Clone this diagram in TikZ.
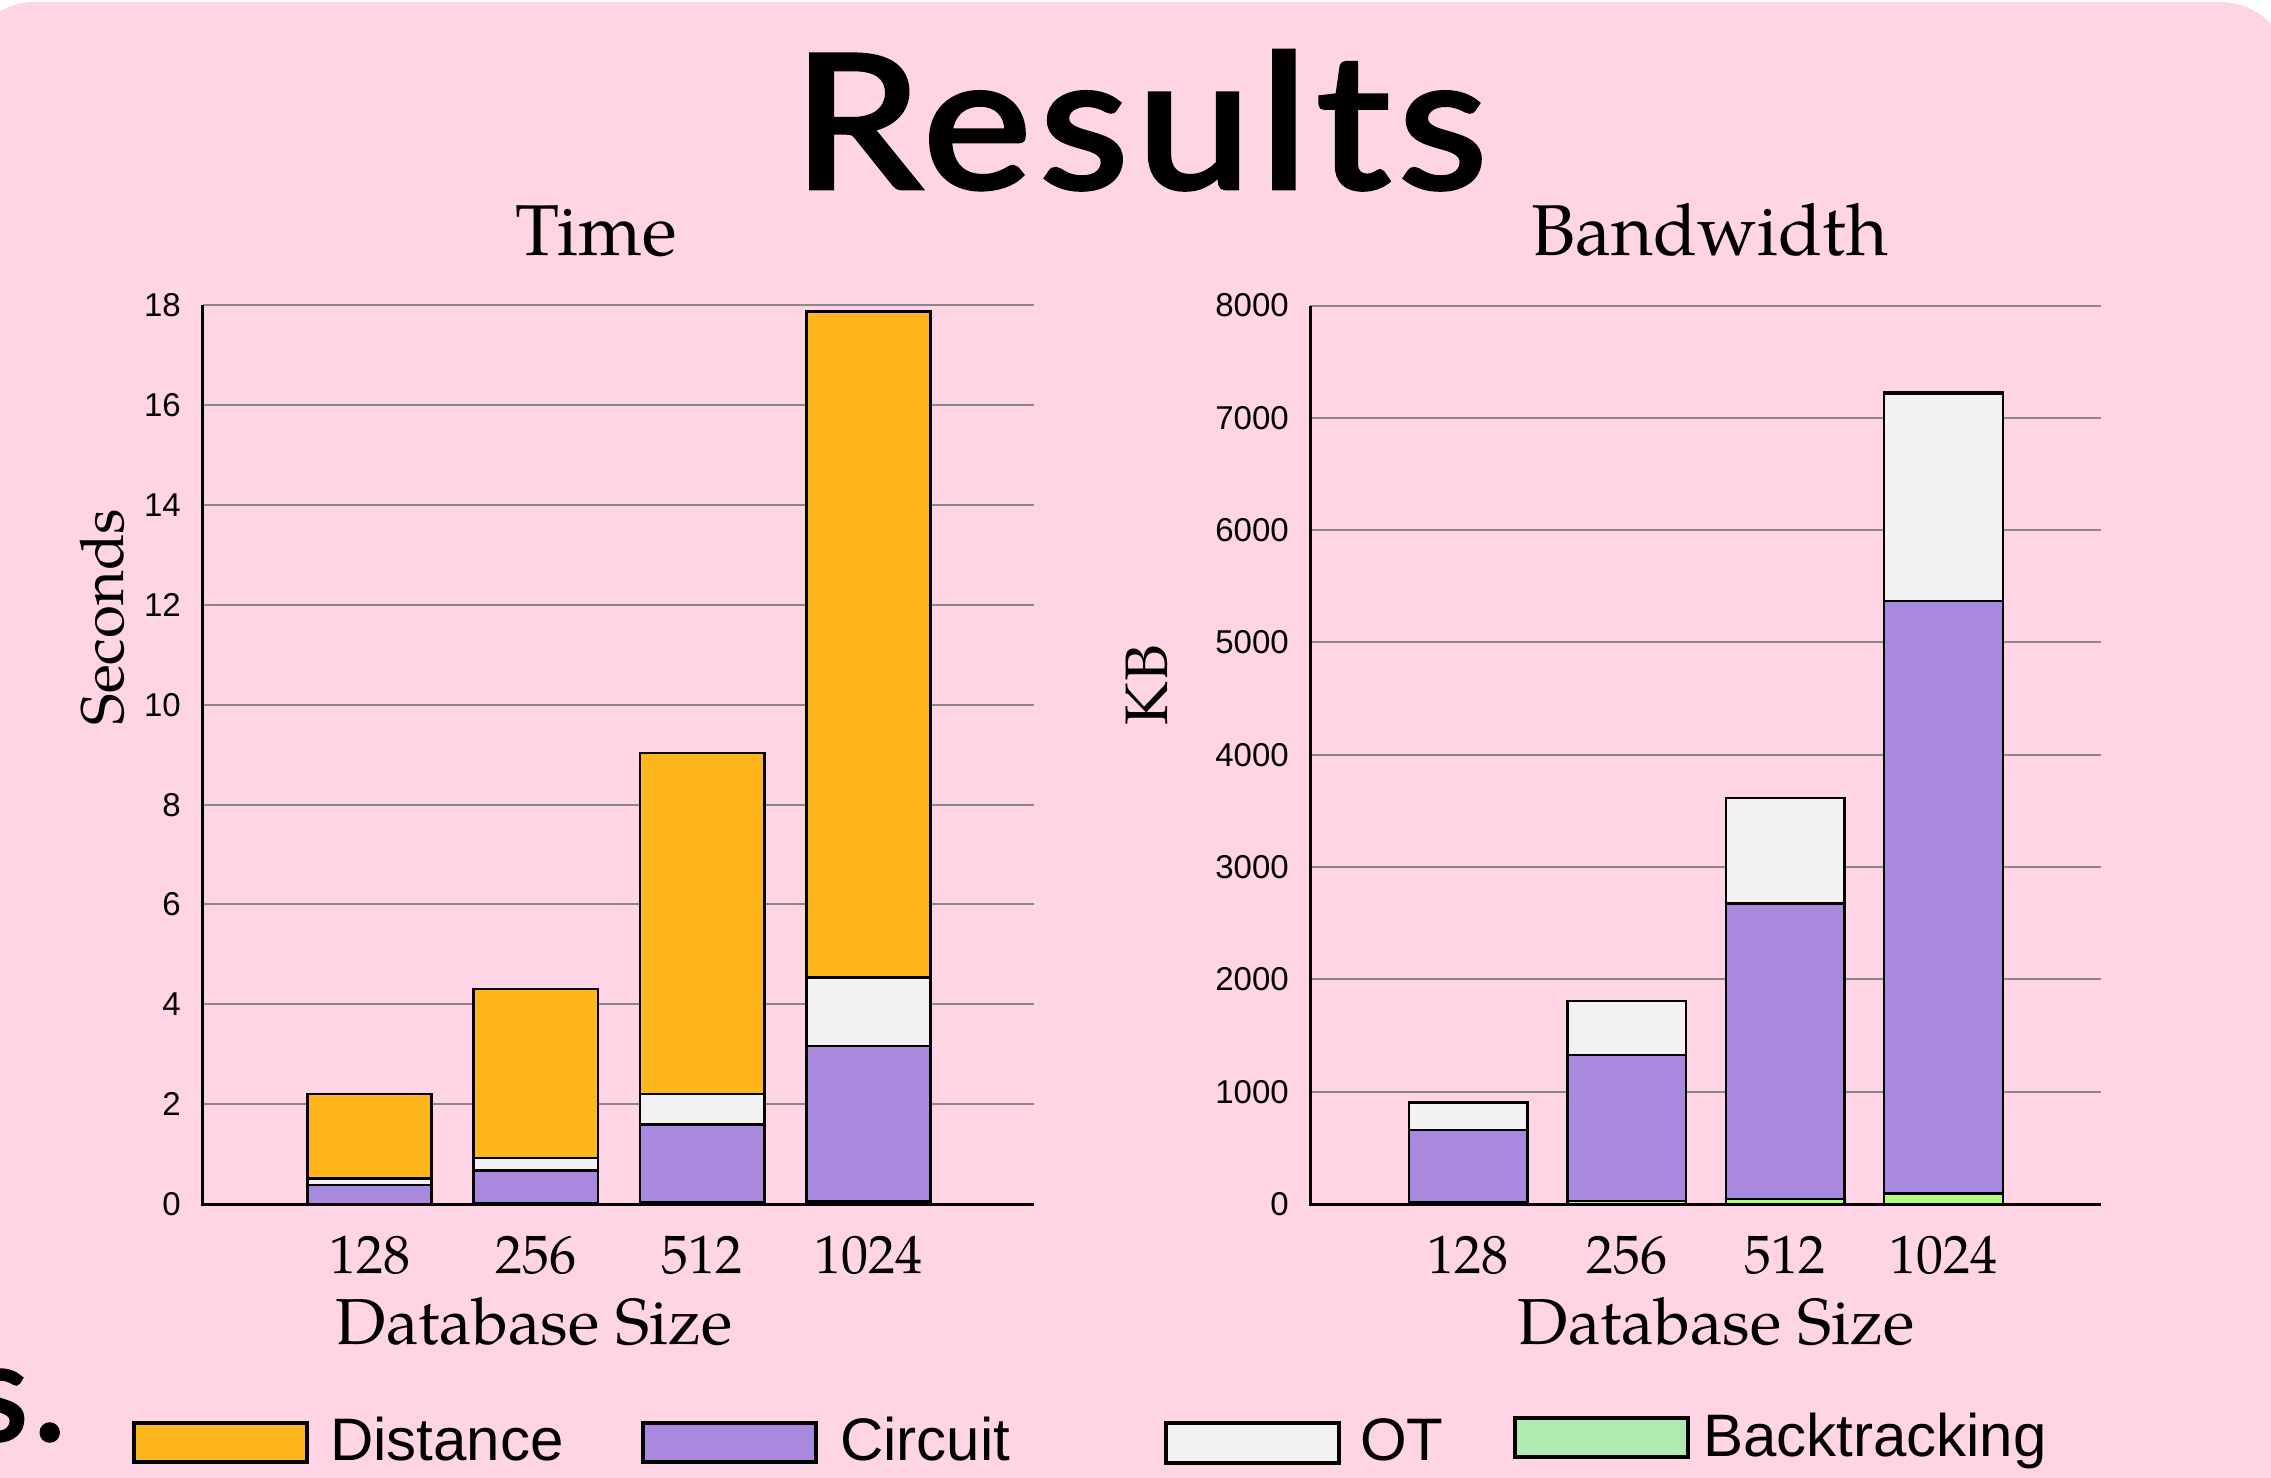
\documentclass[tikz,border=0pt]{standalone}
\usepackage{fontspec}
\setmainfont{texgyrepagella-regular.otf}
\newfontfamily\headfont{Lato}[LetterSpace=4.2, FakeBold=2.5]
\newfontfamily\axisfont{Liberation Sans}

\definecolor{bgpink}{RGB}{255,212,229}
\definecolor{distcol}{RGB}{255,182,28}
\definecolor{circcol}{RGB}{169,137,222}
\definecolor{otcol}{RGB}{242,242,242}
\definecolor{btcol}{RGB}{178,255,128}
\definecolor{btleg}{RGB}{176,234,176}
\definecolor{gridcol}{RGB}{136,136,136}

\tikzset{
  seg/.style={draw=black, line width=2.5pt, fill=#1},
  legbox/.style={draw=black, line width=4pt, fill=#1},
  gridline/.style={draw=gridcol, line width=2pt},
  axisline/.style={draw=black, line width=3pt},
  ticklabel/.style={font=\axisfont\fontsize{33}{33}\selectfont, anchor=east, inner sep=0pt},
  catlabel/.style={font=\fontsize{54}{54}\selectfont, anchor=base, inner sep=0pt},
  axistitle/.style={font=\fontsize{65}{65}\selectfont, anchor=base, inner sep=0pt},
  yaxistitle/.style={font=\fontsize{60}{60}\selectfont, anchor=base, inner sep=0pt, rotate=90},
  charttitle/.style={font=\fontsize{72}{72}\selectfont, anchor=base, inner sep=0pt},
  legtext/.style={font=\axisfont\fontsize{60}{60}\selectfont, anchor=base west, inner sep=0pt},
}

% one stacked bar: left x, width, then the cumulative tops of
% backtracking, circuit, OT and distance
\newcommand{\stackedbar}[6]{%
  \draw[seg=btcol]   (#1,0)  rectangle (#1+#2,#3);
  \draw[seg=circcol] (#1,#3) rectangle (#1+#2,#4);
  \draw[seg=otcol]   (#1,#4) rectangle (#1+#2,#5);
  \draw[seg=distcol] (#1,#5) rectangle (#1+#2,#6);
}

\begin{document}
\begin{tikzpicture}[x=1pt, y=-1pt]
  \useasboundingbox (0,0) rectangle (2271,1478);
  \fill[white] (0,0) rectangle (2271,1478);
  \fill[bgpink, rounded corners=70pt] (-35,2) rectangle (2290,1620);

  % heading
  \node[font=\headfont\fontsize{186}{186}\selectfont, anchor=base, inner sep=0pt, xscale=1.1]
    (title) at (1140,188) {Results};
  \node[font=\headfont\fontsize{136}{136}\selectfont, anchor=base east, inner sep=0pt]
    (cut) at (66,1440) {s.};

  % ---------------- time chart ----------------
  \node[charttitle] (ttitle) at (596,255) {Time};
  \begin{scope}[shift={(0,1204)}, y=49.92pt]
    \foreach \v in {2,4,...,18}
      \draw[gridline] (202.8,\v) -- (1034,\v);
    \foreach \v in {0,2,...,18}
      \node[ticklabel] (tt\v) at (181,\v) {\v};
    \stackedbar{307.3}{124.4}{0.00}{0.38}{0.51}{2.20}
    \stackedbar{473.6}{124.4}{0.01}{0.67}{0.92}{4.31}
    \stackedbar{640.0}{124.4}{0.03}{1.59}{2.20}{9.03}
    \stackedbar{806.3}{124.4}{0.05}{3.17}{4.54}{17.88}
    \draw[axisline] (202.8,18) -- (202.8,0) -- (1034,0);
  \end{scope}
  \node[catlabel] (t128)  at (369.5,1273) {128};
  \node[catlabel] (t256)  at (535.8,1273) {256};
  \node[catlabel] (t512)  at (702.1,1273) {512};
  \node[catlabel] (t1024) at (868.4,1273) {1024};
  \node[axistitle] (txlab) at (534,1344) {Database Size};
  \node[yaxistitle] (tylab) at (123,617) {Seconds};

  % ---------------- bandwidth chart ----------------
  \node[charttitle] (btitle) at (1710,255) {Bandwidth};
  \begin{scope}[shift={(0,1204)}, y=0.11231pt]
    \foreach \v in {1000,2000,...,8000}
      \draw[gridline] (1310,\v) -- (2101,\v);
    \foreach \v in {0,1000,...,8000}
      \node[ticklabel] (bt\v) at (1289,\v) {\v};
    \stackedbar{1409.0}{118.6}{12}{659}{905}{905}
    \stackedbar{1567.4}{118.6}{25}{1327}{1809}{1809}
    \stackedbar{1725.8}{118.6}{45}{2674}{3615}{3615}
    \stackedbar{1884.2}{118.6}{95}{5369}{7212}{7232}
    \draw[axisline] (1310,8000) -- (1310,0) -- (2101,0);
  \end{scope}
  \node[catlabel] (b128)  at (1468.3,1273) {128};
  \node[catlabel] (b256)  at (1626.7,1273) {256};
  \node[catlabel] (b512)  at (1785.1,1273) {512};
  \node[catlabel] (b1024) at (1943.5,1273) {1024};
  \node[axistitle] (bxlab) at (1716,1344) {Database Size};
  \node[yaxistitle] (bylab) at (1167,685) {KB};

  % ---------------- legend ----------------
  \draw[legbox=distcol] (133.5,1423) rectangle (306.6,1462);
  \node[legtext] (ldist) at (330,1460) {Distance};
  \draw[legbox=circcol] (643,1423) rectangle (816,1462);
  \node[legtext] (lcirc) at (840,1460) {Circuit};
  \draw[legbox=otcol] (1166,1423) rectangle (1339,1463);
  \node[legtext] (lot) at (1360,1460) {OT};
  \draw[legbox=btleg] (1514.5,1418) rectangle (1688,1457);
  \node[legtext] (lbt) at (1703,1456) {Backtracking};
\end{tikzpicture}
\end{document}
